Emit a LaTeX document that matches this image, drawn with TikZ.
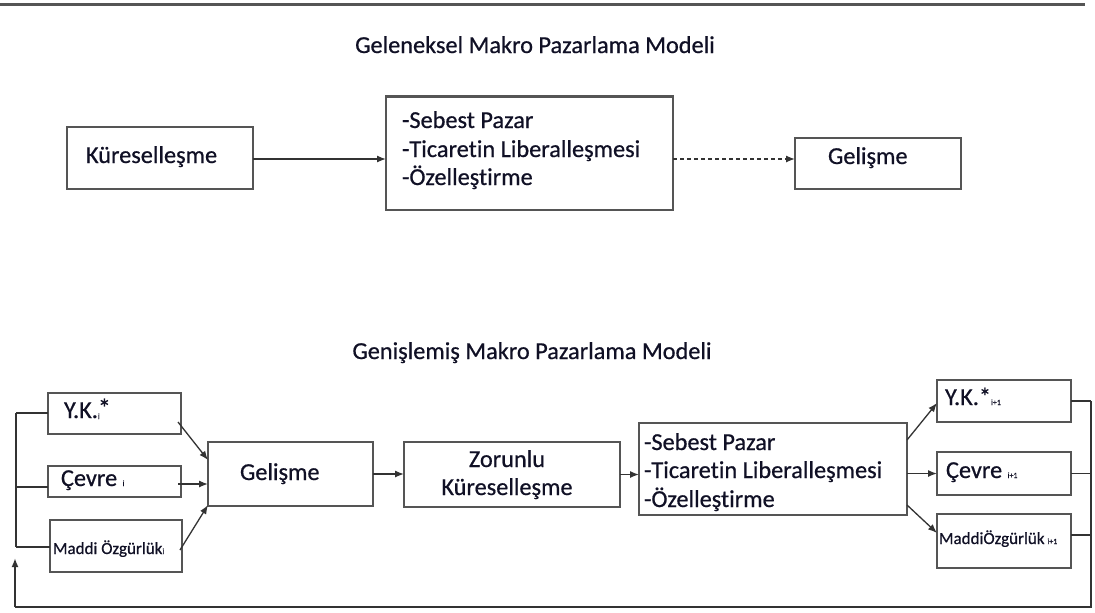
\documentclass[tikz,border=0pt]{standalone}
\usepackage{fontspec}
\setmainfont[Ligatures=NoCommon,FakeBold=0.6]{Carlito}
\usetikzlibrary{arrows.meta,fit,calc}
\definecolor{boxgray}{HTML}{555555}
\definecolor{linegray}{HTML}{333333}
\definecolor{txtc}{HTML}{101025}
\newcommand{\bigtxt}{\fontsize{24.3}{28}\selectfont}
\newcommand{\smalltxt}{\fontsize{17}{20}\selectfont}
\newcommand{\subtxt}[1]{{\fontsize{8}{9}\selectfont #1}}
\begin{document}
\begin{tikzpicture}[x=1pt,y=-1pt,
  boxn/.style={draw=boxgray,line width=1.5pt,inner sep=0pt,outer sep=0pt,fill=white},
  txt/.style={inner sep=0pt,outer sep=0pt,text=txtc,font=\bigtxt},
  stxt/.style={inner sep=0pt,outer sep=0pt,text=txtc,font=\smalltxt},
  arr/.style={draw=linegray,line width=1.3pt,-{Latex[length=9pt,width=7pt]}},
  fb/.style={draw=linegray,line width=1.8pt},
  bar/.style={draw=linegray,line width=2.8pt}]
\useasboundingbox (0,0) rectangle (1095,613);
\fill[white] (0,0) rectangle (1095,613);
% top rule
\draw[draw=boxgray,line width=3pt] (0,4) -- (1085,4);

% ---------- top model ----------
\node[txt,anchor=base] (t1) at (535,53) {Geleneksel Makro Pazarlama Modeli};
\node[boxn,fit={(67,127) (253,189)}] (k1) {};
\node[boxn,fit={(386,96) (673,210)}] (m1) {};
\draw[draw=boxgray,line width=3pt] (m1.north west) -- (m1.north east);
\node[boxn,fit={(795,138) (961,189)}] (g1) {};
\node[txt,anchor=base west] (k1t) at (86,163) {Küreselleşme};
\node[txt,anchor=base west] (m1a) at (402,128) {-Sebest Pazar};
\node[txt,anchor=base west] (m1b) at (402,157) {-Ticaretin Liberalleşmesi};
\node[txt,anchor=base west] (m1c) at (402,185) {-Özelleştirme};
\node[txt,anchor=base west] (g1t) at (828,164) {Gelişme};
\draw[arr] ([yshift=-1pt]k1.east) -- ([yshift=-1pt]k1.east -| m1.west);
\draw[arr,dash pattern=on 4pt off 3pt] ([yshift=4.5pt]g1.west -| m1.east) -- ([yshift=4.5pt]g1.west);

% ---------- bottom model ----------
\node[txt,anchor=base] (t2) at (532,359) {Genişlemiş Makro Pazarlama Modeli};
\node[boxn,fit={(48,393) (181,434)}] (yk) {};
\node[boxn,fit={(48,466) (181,497)}] (cv) {};
\node[boxn,fit={(50,520) (182,572)}] (md) {};
\node[boxn,fit={(208,442) (373,506)}] (g2) {};
\node[boxn,fit={(404,442) (620,507)}] (zk) {};
\node[boxn,fit={(639,423) (907,515)}] (sp) {};
\node[boxn,fit={(937,380) (1071,422)}] (yk2) {};
\node[boxn,fit={(937,452) (1071,495)}] (cv2) {};
\node[boxn,fit={(937,514) (1071,568)}] (md2) {};

\node[txt,anchor=base west] (ykt) at (64,418) {Y.K.\rlap{\raisebox{1pt}{\fontsize{26}{26}\selectfont *}}\raisebox{-1pt}{\subtxt{i}}};
\node[txt,anchor=base west] (cvt) at (61,486) {Çevre \subtxt{i}};
\node[stxt,anchor=base west] (mdt) at (53,554) {Maddi Özgürlük\subtxt{i}};
\node[txt,anchor=base west] (g2t) at (240,480) {Gelişme};
\node[txt,anchor=base] (zka) at (507,467) {Zorunlu};
\node[txt,anchor=base] (zkb) at (507,495) {Küreselleşme};
\node[txt,anchor=base west] (spa) at (644,450) {-Sebest Pazar};
\node[txt,anchor=base west] (spb) at (644,478) {-Ticaretin Liberalleşmesi};
\node[txt,anchor=base west] (spc) at (644,507) {-Özelleştirme};
\node[txt,anchor=base west] (yk2t) at (945,405) {Y.K.*\subtxt{i+1}};
\node[txt,anchor=base west] (cv2t) at (946,478) {Çevre \subtxt{i+1}};
\node[stxt,anchor=base west] (md2t) at (939,544) {MaddiÖzgürlük\,\subtxt{i+1}};

% arrows into Gelişme
\draw[arr] ([xshift=-3pt,yshift=-8.5pt]yk.east) -- ([yshift=14pt]g2.west);
\draw[arr] ([xshift=-3pt,yshift=-2.5pt]cv.east) -- ([yshift=-2.5pt]cv.east -| g2.west);
\draw[arr] ([xshift=-2pt,yshift=-4pt]md.east) -- ([yshift=1pt]g2.south west);
% chain
\draw[arr] (g2.east) -- (g2.east -| zk.west);
\draw[arr] (zk.east) -- (zk.east -| sp.west);
% outputs
\draw[arr] ([yshift=29pt]sp.east) -- ([yshift=-2pt]yk2.west);
\draw[arr] (cv2.west -| sp.east) -- (cv2.west);
\draw[arr] ([yshift=-36pt]sp.east) -- ([yshift=8pt]md2.west);

% feedback loop
\coordinate (rtop) at (1091,401);
\coordinate (rbot) at (1091,607);
\coordinate (lbot) at (15,607);
\coordinate (ltip) at (15,558);
\draw[fb] (yk2.east) -- (yk2.east -| rtop);
\draw[fb] (cv2.east) -- (cv2.east -| rtop);
\draw[fb] ([yshift=6pt]md2.east) -- ([yshift=6pt]md2.east -| rtop);
\draw[fb] (rtop) -- (rbot) -- (lbot);
\draw[fb,-{Latex[length=9pt,width=7pt]}] (lbot) -- (ltip);
% left collector bar
\coordinate (btop) at (16,413);
\coordinate (bbot) at (16,547);
\draw[bar] (btop) -- (bbot);
\draw[bar] (btop) -- (btop -| yk.west);
\draw[bar] (16,487) coordinate (bmid) -- (bmid -| cv.west);
\draw[bar] (bbot) -- (bbot -| md.west);
\end{tikzpicture}
\end{document}
